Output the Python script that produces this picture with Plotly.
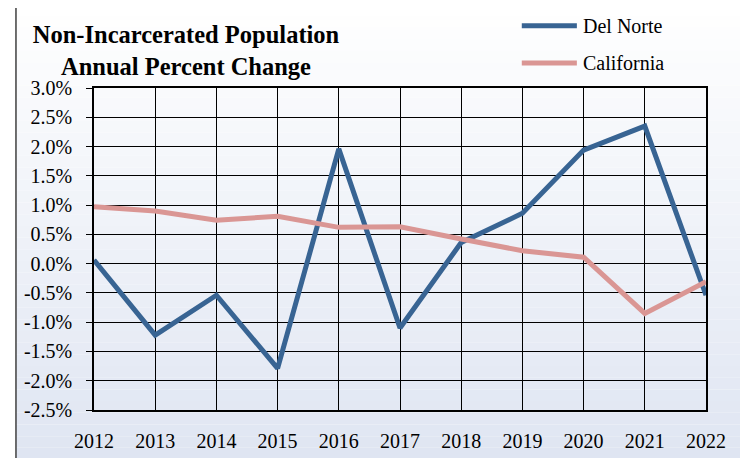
import plotly.graph_objects as go

years = [2012, 2013, 2014, 2015, 2016, 2017, 2018, 2019, 2020, 2021, 2022]
del_norte = [0.06, -1.22, -0.54, -1.79, 1.96, -1.10, 0.36, 0.86, 1.94, 2.35, -0.54]
california = [0.97, 0.90, 0.74, 0.81, 0.62, 0.63, 0.42, 0.22, 0.11, -0.85, -0.31]
y_ticks = [-2.5, -2.0, -1.5, -1.0, -0.5, 0.0, 0.5, 1.0, 1.5, 2.0, 2.5, 3.0]

BLUE = '#386493'
PINK = '#da9694'
SERIF = 'Liberation Serif'

fig = go.Figure()
fig.add_trace(go.Scatter(x=years, y=del_norte, mode='lines', name='Del Norte',
                         line=dict(color=BLUE, width=5)))
fig.add_trace(go.Scatter(x=years, y=california, mode='lines', name='California',
                         line=dict(color=PINK, width=5)))

# gradient chart box: bands in paper coords around the plot area,
# and domain-referenced bands inside it (so gridlines stay on top)
BOX_L, BOX_R, BOX_T, BOX_B = -0.1275, 1.062, 1.261, -0.19
shapes = []


def band(x0, x1, y0, y1, color, ref='paper'):
    xr, yr = ('paper', 'paper') if ref == 'paper' else ('x domain', 'y domain')
    shapes.append(dict(type='rect', xref=xr, yref=yr, x0=x0, x1=x1,
                       y0=y0, y1=y1, fillcolor=color, line_width=0,
                       layer='below'))


n = 40
for i in range(n):
    t = i / (n - 1)
    col = 'rgb({},{},{})'.format(int(255 - 32 * t), int(255 - 26 * t),
                                 int(255 - 13 * t))
    y1 = BOX_T - (BOX_T - BOX_B) * i / n
    y0 = BOX_T - (BOX_T - BOX_B) * (i + 1) / n
    lo, hi = max(y0, 0), min(y1, 1)
    if y1 > 1:
        band(BOX_L, BOX_R, max(y0, 1), y1, col)
    if y0 < 0:
        band(BOX_L, BOX_R, y0, min(y1, 0), col)
    if hi > lo:
        band(BOX_L, 0, lo, hi, col)
        band(1, BOX_R, lo, hi, col)
        band(0, 1, lo, hi, col, ref='domain')

shapes.append(dict(type='rect', xref='paper', yref='paper',
                   x0=BOX_L, x1=BOX_R, y0=BOX_B, y1=BOX_T,
                   line=dict(color='#404040', width=1.5), layer='below'))

# hand-drawn legend (long line samples like the original)
legend_rows = [('Del Norte', BLUE, 1.193), ('California', PINK, 1.078)]
annotations = []
for name, color, yy in legend_rows:
    shapes.append(dict(type='line', xref='paper', yref='paper',
                       x0=0.699, x1=0.789, y0=yy, y1=yy,
                       line=dict(color=color, width=5)))
    annotations.append(dict(text=name, xref='paper', yref='paper',
                            x=0.795, y=yy, xanchor='left', yanchor='middle',
                            showarrow=False,
                            font=dict(family=SERIF, size=20, color='black')))

# the page body adds an 8px offset, so margins are shifted to compensate
fig.update_layout(
    width=748, height=458,
    margin=dict(l=86, r=50, t=80, b=56),
    paper_bgcolor='white',
    plot_bgcolor='rgba(0,0,0,0)',
    showlegend=False,
    title=dict(text='Non-Incarcerated Population<br>Annual Percent Change',
               x=178 / 748, xanchor='center', y=1 - 35 / 458, yanchor='middle',
               font=dict(family=SERIF, size=24.5, color='black', weight='bold')),
    shapes=shapes,
    annotations=annotations,
    font=dict(family=SERIF, size=20, color='black'),
)
fig.update_xaxes(range=[2012, 2022], tickvals=years, showgrid=True,
                 gridcolor='black', gridwidth=1, showline=True, mirror=True,
                 linecolor='black', linewidth=1.5, zeroline=False,
                 ticks='', ticklabelstandoff=12,
                 tickfont=dict(family=SERIF, size=20, color='black'))
fig.update_yaxes(range=[-2.5, 3.0], tickvals=y_ticks,
                 ticktext=[f'{v:.1f}%' for v in y_ticks],
                 showgrid=True, gridcolor='black', gridwidth=1,
                 showline=True, mirror=True, linecolor='black', linewidth=1.5,
                 zeroline=False, ticks='outside', ticklen=6, tickcolor='black',
                 ticklabelstandoff=10,
                 tickfont=dict(family=SERIF, size=20, color='black'))

fig.write_html('out.html')
